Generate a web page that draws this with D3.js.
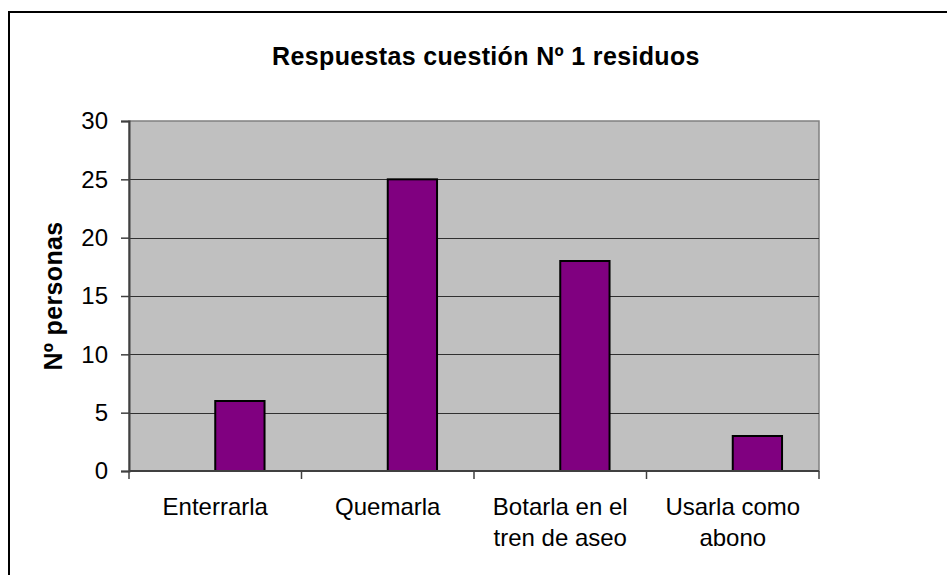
<!DOCTYPE html>
<html>
<head>
<meta charset="utf-8">
<script src="https://cdn.jsdelivr.net/npm/d3@7"></script>
<style>
  html, body { margin: 0; padding: 0; background: #fff; }
  svg { display: block; }
  text { font-family: "Liberation Sans", Arial, sans-serif; fill: #000; }
</style>
</head>
<body>
<svg id="chart" width="947" height="575"></svg>
<script>
const categories = ["Enterrarla", "Quemarla", "Botarla en el tren de aseo", "Usarla como abono"];
const categoryLines = [["Enterrarla"], ["Quemarla"], ["Botarla en el", "tren de aseo"], ["Usarla como", "abono"]];
const values = [6, 25, 18, 3];
const yTicks = [0, 5, 10, 15, 20, 25, 30];
const title = "Respuestas cuestión Nº 1 residuos";
const yTitle = "Nº personas";

const svg = d3.select("#chart");

// outer chart border
svg.append("rect")
  .attr("x", 9).attr("y", 12).attr("width", 960).attr("height", 600)
  .attr("fill", "#fff").attr("stroke", "#000").attr("stroke-width", 2);

const plot = { left: 129, right: 819, top: 121, bottom: 471 };

const x = d3.scaleBand().domain(categories).range([plot.left, plot.right]).paddingInner(0).paddingOuter(0);
const y = d3.scaleLinear().domain([0, 30]).range([plot.bottom, plot.top]);

// plot area background
svg.append("rect")
  .attr("x", plot.left).attr("y", plot.top)
  .attr("width", plot.right - plot.left).attr("height", plot.bottom - plot.top)
  .attr("fill", "#C0C0C0").attr("stroke", "#808080").attr("stroke-width", 1.5);

// gridlines
svg.append("g").selectAll("line")
  .data(yTicks.filter(t => t > 0 && t < 30))
  .join("line")
  .attr("x1", plot.left).attr("x2", plot.right)
  .attr("y1", d => Math.round(y(d)) + 0.5).attr("y2", d => Math.round(y(d)) + 0.5)
  .attr("stroke", "#303030").attr("stroke-width", 1);

// bars (second of two series slots, gap width 150%)
const barW = x.bandwidth() / 3.5;
svg.append("g").selectAll("rect")
  .data(values)
  .join("rect")
  .attr("x", (d, i) => x(categories[i]) + x.bandwidth() / 2)
  .attr("y", d => y(d))
  .attr("width", barW)
  .attr("height", d => y(0) - y(d))
  .attr("fill", "#800080")
  .attr("stroke", "#000")
  .attr("stroke-width", 2);

// y axis
const yAxis = d3.axisLeft(y).tickValues(yTicks).tickSize(8).tickPadding(13).tickFormat(d3.format("d"));
const gy = svg.append("g").attr("transform", `translate(${plot.left},0)`).call(yAxis);
gy.select(".domain").attr("stroke", "#404040").attr("stroke-width", 2);
gy.selectAll(".tick line").attr("stroke", "#404040").attr("stroke-width", 1.5);
gy.selectAll(".tick text").attr("font-size", 24).attr("font-family", "Liberation Sans, Arial, sans-serif").attr("fill", "#000");

// x axis
const gx = svg.append("g").attr("transform", `translate(0,${plot.bottom})`);
gx.append("line").attr("x1", plot.left).attr("x2", plot.right).attr("y1", 0).attr("y2", 0)
  .attr("stroke", "#404040").attr("stroke-width", 2);
const boundaries = categories.map(c => x(c)).concat([plot.right]);
gx.selectAll("line.tk").data(boundaries).join("line").attr("class", "tk")
  .attr("x1", d => d).attr("x2", d => d).attr("y1", 0).attr("y2", 8)
  .attr("stroke", "#404040").attr("stroke-width", 1.5);

const labels = svg.append("g").selectAll("text")
  .data(categories)
  .join("text")
  .attr("x", d => x(d) + x.bandwidth() / 2)
  .attr("y", 515)
  .attr("text-anchor", "middle")
  .attr("font-size", 24);
labels.each(function(d, i) {
  d3.select(this).selectAll("tspan").data(categoryLines[i]).join("tspan")
    .attr("x", x(d) + x.bandwidth() / 2)
    .attr("dy", (l, j) => j === 0 ? 0 : 30.5)
    .text(l => l);
});

// title
svg.append("text")
  .attr("x", 486).attr("y", 65)
  .attr("text-anchor", "middle")
  .attr("font-size", 25).attr("font-weight", "bold")
  .attr("letter-spacing", 0.35)
  .text(title);

// y axis title
svg.append("text")
  .attr("transform", `translate(62,${(plot.top + plot.bottom) / 2}) rotate(-90)`)
  .attr("text-anchor", "middle")
  .attr("font-size", 25).attr("font-weight", "bold")
  .attr("letter-spacing", 0.35)
  .text(yTitle);
</script>
</body>
</html>
